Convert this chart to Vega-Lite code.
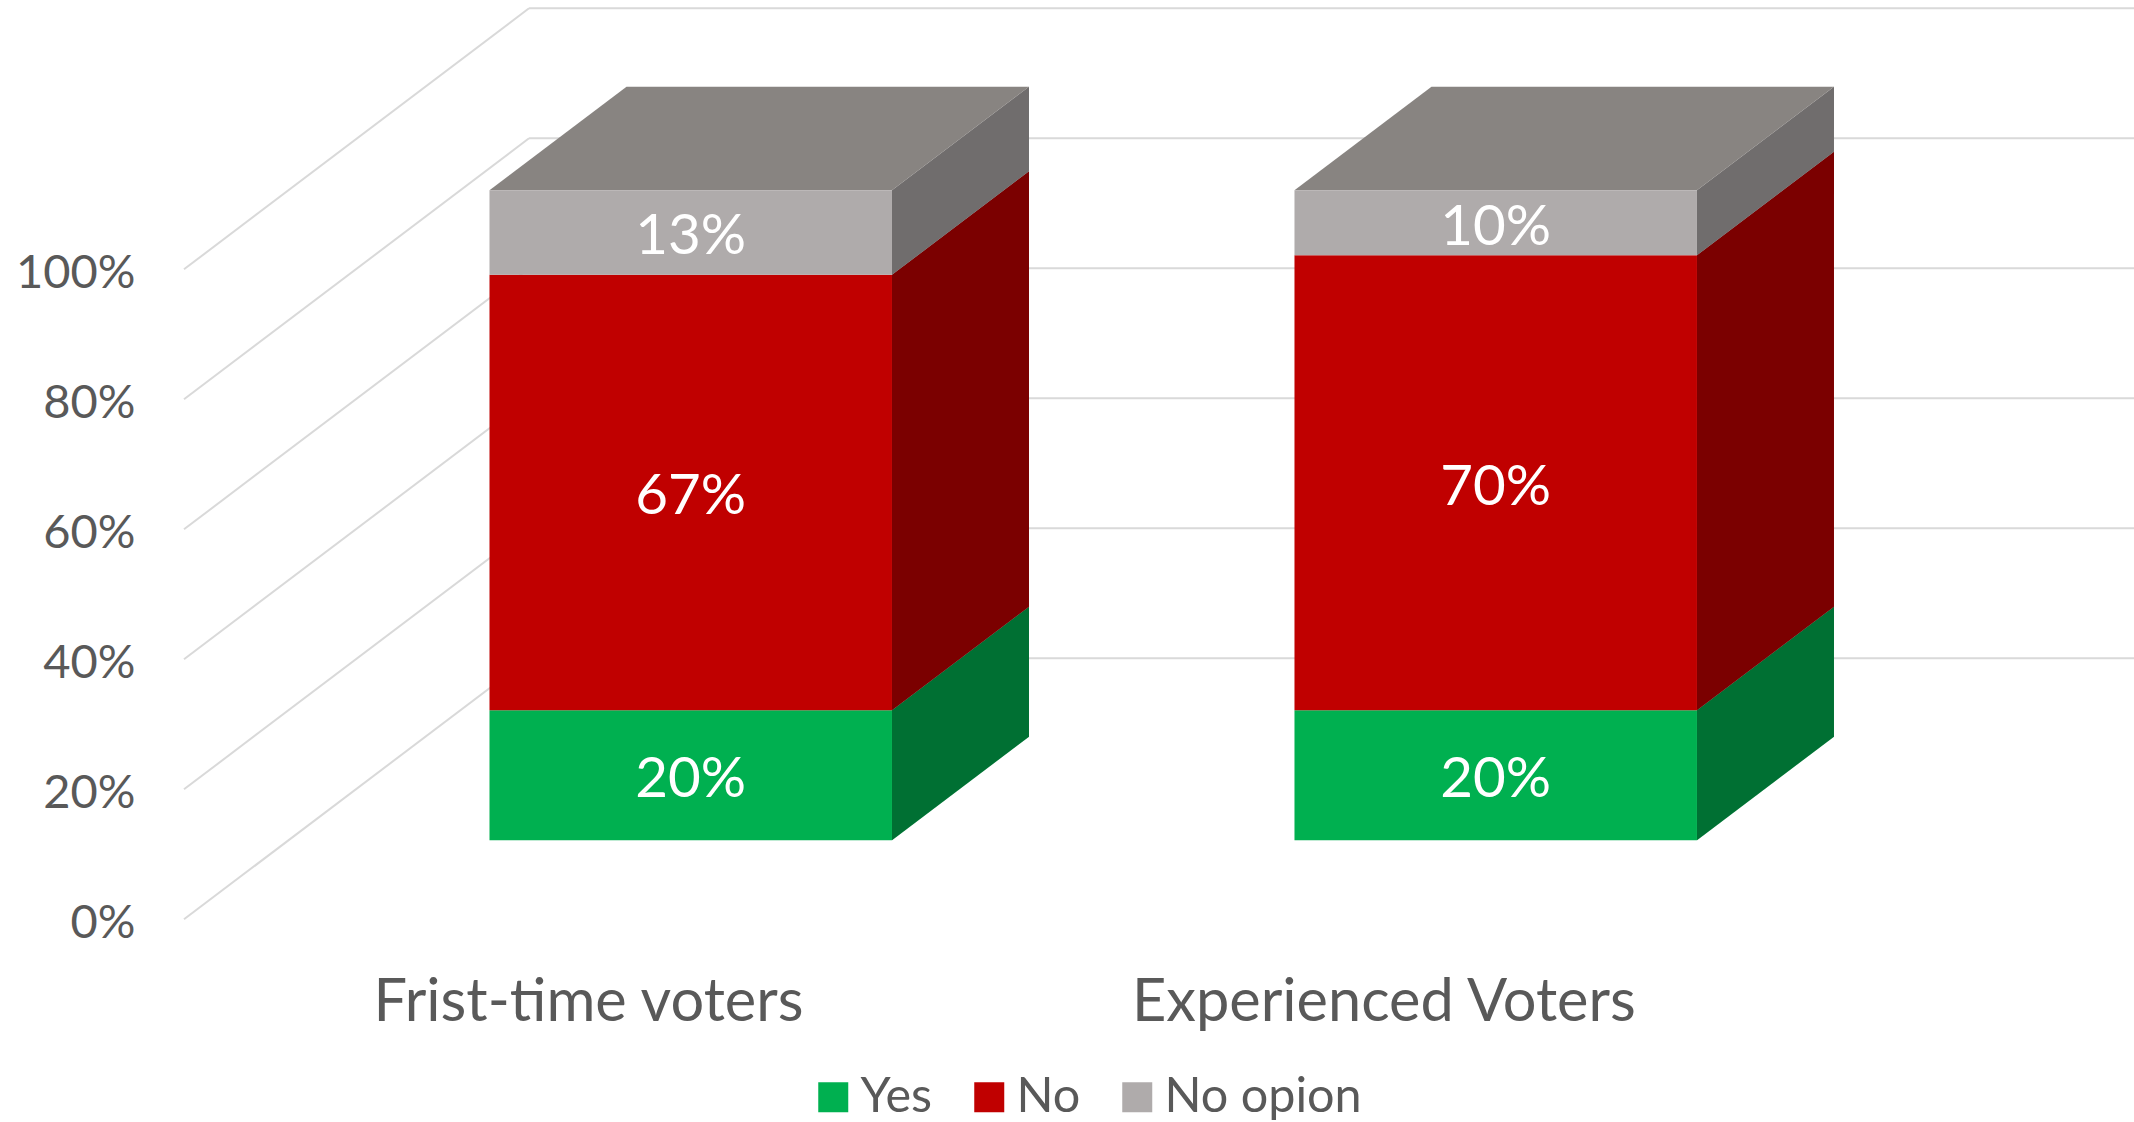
{
"$schema":"https://vega.github.io/schema/vega-lite/v6.json",
"width":1950,"height":1122,"autosize":{"type":"none"},
"padding":{"left":184,"top":0,"right":0,"bottom":0},
"background":"white",
"config":{"view":{"stroke":null},"font":"Lato"},
"datasets":{
"segments":[
{"voter":"Frist-time voters","response":"Yes","value":0.2},
{"voter":"Frist-time voters","response":"No","value":0.67},
{"voter":"Frist-time voters","response":"No opion","value":0.13},
{"voter":"Experienced Voters","response":"Yes","value":0.2},
{"voter":"Experienced Voters","response":"No","value":0.7},
{"voter":"Experienced Voters","response":"No opion","value":0.1}],
"ticks":[{"tick":0},{"tick":0.2},{"tick":0.4},{"tick":0.6},{"tick":0.8},{"tick":1}],
"voters":[{"voter":"Frist-time voters"},{"voter":"Experienced Voters"}]
},
"layer":[
{"data":{"name":"ticks"},
 "transform":[{"calculate":"datum.tick+0.4015","as":"wall"}],
 "mark":{"type":"rule","stroke":"#D9D9D9","strokeWidth":2},
 "encoding":{
  "x":{"datum":-0.6295,"type":"quantitative","scale":{"domain":[-0.6295,1.7929],"nice":false,"zero":false},"axis":null},
  "x2":{"datum":-0.2009},
  "y":{"field":"tick","type":"quantitative","scale":{"domain":[-0.3118,1.4143],"nice":false,"zero":false},
   "axis":{"title":null,"values":[0,0.2,0.4,0.6,0.8,1],"format":".0%","grid":false,"ticks":false,"domain":false,"labelFont":"Lato","labelFontSize":47,"labelColor":"#595959","labelPadding":49,"labelOffset":4,"labelFlush":false,"labelOverlap":false}},
  "y2":{"field":"wall"}}},
{"data":{"name":"ticks"},
 "transform":[{"calculate":"datum.tick+0.4015","as":"wall"}],
 "mark":{"type":"rule","stroke":"#D9D9D9","strokeWidth":2},
 "encoding":{
  "x":{"datum":-0.2009,"type":"quantitative"},
  "x2":{"datum":1.7929},
  "y":{"field":"wall","type":"quantitative"}}},
{"data":{"name":"segments"},
 "transform":[
  {"stack":"value","groupby":["voter"],"as":["start","end"]},
  {"calculate":"datum.voter === 'Frist-time voters' ? 0 : 1","as":"pos"},
  {"calculate":"[0,1]","as":"t"},{"flatten":["t"]},
  {"calculate":"datum.pos+0.25+datum.t*0.1702","as":"vx"},
  {"calculate":"datum.start+0.1215+datum.t*0.1595","as":"low"},
  {"calculate":"datum.end+0.1215+datum.t*0.1595","as":"high"}],
 "mark":{"type":"area","orient":"vertical"},
 "encoding":{
  "x":{"field":"vx","type":"quantitative"},
  "y":{"field":"low","type":"quantitative","stack":null},
  "y2":{"field":"high"},
  "detail":{"field":"voter"},
  "color":{"field":"response","type":"nominal",
   "scale":{"domain":["Yes","No","No opion"],"range":["#00B050","#C00000","#AFABAB"]},
   "legend":{"title":null,"orient":"none","direction":"horizontal","legendX":625,"legendY":1074,"padding":0,"symbolType":"square","symbolSize":900,"symbolStrokeWidth":0,"symbolOpacity":1,"labelFont":"Lato","labelFontSize":48.5,"labelColor":"#595959","labelOffset":3,"columnPadding":32,"clipHeight":46,"labelLimit":400}}}},
{"data":{"name":"segments"},
 "transform":[
  {"stack":"value","groupby":["voter"],"as":["start","end"]},
  {"calculate":"datum.voter === 'Frist-time voters' ? 0 : 1","as":"pos"},
  {"calculate":"[0,1]","as":"t"},{"flatten":["t"]},
  {"calculate":"datum.pos+0.25+datum.t*0.1702","as":"vx"},
  {"calculate":"datum.start+0.1215+datum.t*0.1595","as":"low"},
  {"calculate":"datum.end+0.1215+datum.t*0.1595","as":"high"}],
 "mark":{"type":"area","orient":"vertical","fill":"black","opacity":0.36},
 "encoding":{
  "x":{"field":"vx","type":"quantitative"},
  "y":{"field":"low","type":"quantitative","stack":null},
  "y2":{"field":"high"},
  "detail":[{"field":"voter"},{"field":"response"}]}},
{"data":{"name":"segments"},
 "transform":[
  {"stack":"value","groupby":["voter"],"as":["start","end"]},
  {"filter":"datum.response === 'No opion'"},
  {"calculate":"datum.voter === 'Frist-time voters' ? 0 : 1","as":"pos"},
  {"calculate":"[datum.pos-0.25,datum.pos-0.25+0.1702,datum.pos+0.25,datum.pos+0.25+0.1702]","as":"vx"},
  {"calculate":"[datum.end+0.1215,datum.end+0.1215,datum.end+0.1215,datum.end+0.281]","as":"low"},
  {"calculate":"[datum.end+0.1215,datum.end+0.281,datum.end+0.281,datum.end+0.281]","as":"high"},
  {"flatten":["vx","low","high"]}],
 "mark":{"type":"area","orient":"vertical","fill":"#888481"},
 "encoding":{
  "x":{"field":"vx","type":"quantitative"},
  "y":{"field":"low","type":"quantitative","stack":null},
  "y2":{"field":"high"},
  "detail":{"field":"voter"}}},
{"data":{"name":"segments"},
 "transform":[
  {"stack":"value","groupby":["voter"],"as":["start","end"]},
  {"calculate":"datum.voter === 'Frist-time voters' ? 0 : 1","as":"pos"},
  {"calculate":"datum.pos-0.25","as":"left"},
  {"calculate":"datum.pos+0.25","as":"right"},
  {"calculate":"datum.start+0.1215","as":"low"},
  {"calculate":"datum.end+0.1215","as":"high"}],
 "mark":{"type":"rect"},
 "encoding":{
  "x":{"field":"left","type":"quantitative"},
  "x2":{"field":"right"},
  "y":{"field":"low","type":"quantitative"},
  "y2":{"field":"high"},
  "color":{"field":"response","type":"nominal"}}},
{"data":{"name":"segments"},
 "transform":[
  {"stack":"value","groupby":["voter"],"as":["start","end"]},
  {"calculate":"datum.voter === 'Frist-time voters' ? 0 : 1","as":"pos"},
  {"calculate":"(datum.start+datum.end)/2+0.1215-0.0075","as":"mid"}],
 "mark":{"type":"text","font":"Lato","fontSize":56.5,"fill":"white","align":"center","baseline":"middle"},
 "encoding":{
  "x":{"field":"pos","type":"quantitative"},
  "y":{"field":"mid","type":"quantitative"},
  "text":{"field":"value","type":"quantitative","format":".0%"}}},
{"data":{"name":"voters"},
 "transform":[
  {"calculate":"datum.voter === 'Frist-time voters' ? -0.127 : 0.861","as":"pos"},
  {"calculate":"-0.156","as":"labelY"}],
 "mark":{"type":"text","font":"Lato","fontSize":59.5,"fill":"#595959","align":"center","baseline":"alphabetic"},
 "encoding":{
  "x":{"field":"pos","type":"quantitative"},
  "y":{"field":"labelY","type":"quantitative"},
  "text":{"field":"voter","type":"nominal"}}}
]
}
